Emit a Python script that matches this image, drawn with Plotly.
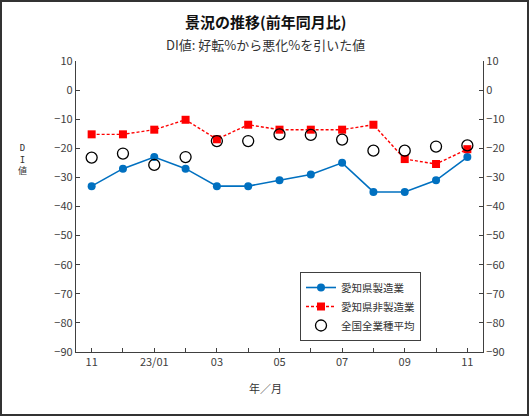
import plotly.graph_objects as go

categories = ["22/11", "22/12", "23/01", "23/02", "23/03", "23/04", "23/05",
              "23/06", "23/07", "23/08", "23/09", "23/10", "23/11"]
tick_labels = ["11", "", "23/01", "", "03", "", "05", "", "07", "", "09", "", "11"]
aichi_mfg = [-33, -27, -23, -27, -33, -33, -31, -29, -25, -35, -35, -31, -23]
aichi_nonmfg = [-15.2, -15.2, -13.6, -10.2, -16.9, -11.9, -13.6, -13.6, -13.6, -11.9, -23.7, -25.4, -20.3]
national_avg = [-23.2, -21.8, -25.7, -23.0, -17.5, -17.5, -15.2, -15.4, -17.0, -20.8, -20.8, -19.4, -19.0]

FONT = "Noto Sans CJK JP"
W, H = 529, 416
L, R, T, B = 76, 46, 61, 64
pw, ph = W - L - R, H - T - B

fig = go.Figure()
fig.add_trace(go.Scatter(
    x=categories, y=aichi_mfg, name="愛知県製造業", mode="lines+markers",
    line=dict(color="#0070C0", width=1.6),
    marker=dict(symbol="circle", size=8, color="#0070C0")))
fig.add_trace(go.Scatter(
    x=categories, y=aichi_nonmfg, name="愛知県非製造業", mode="lines+markers",
    line=dict(color="#FF0000", width=1.4, dash="3px,2px"),
    marker=dict(symbol="square", size=8, color="#FF0000")))
fig.add_trace(go.Scatter(
    x=categories, y=national_avg, name="全国全業種平均", mode="markers",
    marker=dict(symbol="circle-open", size=11, color="#000000", line=dict(width=1.3))))
# invisible trace for right axis
fig.add_trace(go.Scatter(x=categories, y=aichi_mfg, yaxis="y2", mode="markers",
                         marker=dict(opacity=0), showlegend=False, hoverinfo="skip"))

axis_common = dict(range=[-90, 10], dtick=10, ticks="inside", ticklen=4,
                   showline=True, linecolor="#404040", linewidth=1.2,
                   tickcolor="#404040", showgrid=False, zeroline=False,
                   tickfont=dict(family=FONT, size=11, color="#404040"))

fig.update_layout(
    width=W, height=H,
    margin=dict(l=L, r=R, t=T, b=B),
    paper_bgcolor="white", plot_bgcolor="white",
    showlegend=True,
    font=dict(family=FONT, color="#222"),
    xaxis=dict(type="category", range=[-0.5, 12.5], tickmode="array",
               tickvals=categories, ticktext=tick_labels, ticks="inside",
               ticklen=4, showline=True, linecolor="#404040", linewidth=1.2,
               tickcolor="#404040", showgrid=False,
               tickfont=dict(family=FONT, size=11, color="#404040")),
    yaxis=dict(side="left", **axis_common),
    yaxis2=dict(side="right", overlaying="y", **axis_common),
    legend=dict(x=(300 - L) / pw, y=(H - B - 272) / ph, xanchor="left", yanchor="top",
                bgcolor="white", bordercolor="#404040", borderwidth=1,
                font=dict(family=FONT, size=10.5, color="#333"),
                itemwidth=30, tracegroupgap=0),
)

def px_x(x):
    return (x - L) / pw

def px_y(y):
    return (H - B - y) / ph

annotations = [
    dict(text="<b>景況の推移(前年同月比)</b>", x=px_x(265), y=px_y(21), font=dict(size=15, color="#111")),
    dict(text="DI値: 好転%から悪化%を引いた値", x=px_x(265), y=px_y(45), font=dict(size=13, color="#333")),
    dict(text="年／月", x=px_x(265), y=px_y(388), font=dict(size=11, color="#333")),
    dict(text="D<br>I<br>値", x=px_x(22), y=px_y(159),
         font=dict(family="DejaVu Sans Mono, Noto Sans CJK JP", size=9, color="#333")),
]
for a in annotations:
    fig.add_annotation(xref="paper", yref="paper", showarrow=False,
                       xanchor="center", yanchor="middle", **a)

fig.add_shape(type="rect", xref="paper", yref="paper",
              x0=px_x(1), x1=px_x(W - 1), y0=px_y(H - 1), y1=px_y(1),
              line=dict(color="#333", width=2), layer="above")

fig.write_html("out.html", config={"displayModeBar": False},
               post_script="document.body.style.margin='0';document.body.style.overflow='hidden';")
